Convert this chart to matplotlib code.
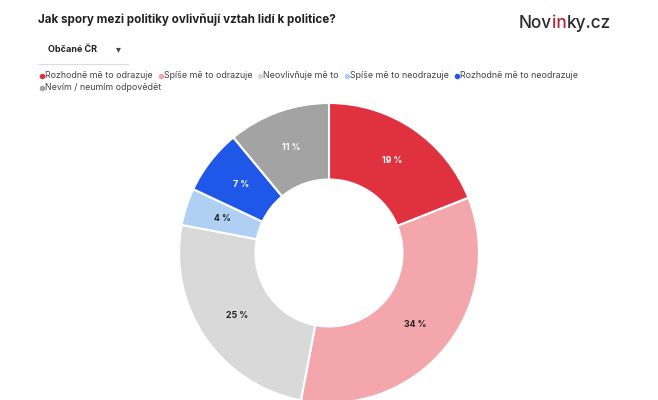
import matplotlib.pyplot as plt
import numpy as np

plt.rcParams['font.family'] = ['Inter', 'DejaVu Sans']

labels = ["Rozhodně mě to odrazuje", "Spíše mě to odrazuje", "Neovlivňuje mě to",
          "Spíše mě to neodrazuje", "Rozhodně mě to neodrazuje", "Nevím / neumím odpovědět"]
values = [19, 34, 25, 4, 7, 11]
colors = ["#E0313F", "#F4A6AD", "#D9D9D9", "#AFCFF3", "#1F57E8", "#A3A3A3"]
text_colors = ["white", "#222222", "#222222", "#222222", "white", "white"]

W, H = 658, 400
fig = plt.figure(figsize=(W / 100, H / 100), dpi=100)

# title + logo
fig.text(38 / W, 1 - 20 / H, "Jak spory mezi politiky ovlivňují vztah lidí k politice?",
         fontsize=8.4, fontweight='bold', color="#222222", va='center')
x = 519 / W
for part, col in [("Nov", "#2b2b2b"), ("in", "#B0263A"), ("ky.cz", "#2b2b2b")]:
    t = fig.text(x, 1 - 23 / H, part, fontsize=12.4, fontweight='medium', color=col, va='center')
    fig.canvas.draw()
    x = t.get_window_extent().x1 / W

# dropdown
fig.text(48 / W, 1 - 49 / H, "Občané ČR", fontsize=6.5, fontweight='bold', color="#222222", va='center')
fig.text(116 / W, 1 - 49 / H, "▾", fontsize=7, color="#444444", va='center', family='DejaVu Sans')
fig.add_artist(plt.Line2D([38 / W, 128 / W], [1 - 64 / H, 1 - 64 / H], color="#dddddd", lw=0.8))

# legend
rows = [(0, 5, 76), (5, 6, 88)]
for start, end, y in rows:
    x = 40 / W
    for i in range(start, end):
        fig.add_artist(plt.Line2D([x + 2 / W], [1 - y / H], marker='o', markersize=3,
                                  color=colors[i], lw=0))
        t = fig.text(x + 5 / W, 1 - y / H, labels[i], fontsize=6.4, color="#444444", va='center')
        fig.canvas.draw()
        x = t.get_window_extent().x1 / W + 6 / W

# donut
ax = fig.add_axes([179 / W, -3 / H, 300 / W, 300 / H])
ax.pie(values, colors=colors, startangle=90, counterclock=False, radius=1,
       wedgeprops=dict(width=0.51, edgecolor='white', linewidth=1.5))
ang = 90.0
for v, tc in zip(values, text_colors):
    mid = np.deg2rad(ang - v * 3.6 / 2)
    ax.text(0.745 * np.cos(mid), 0.745 * np.sin(mid), f"{v} %", ha='center', va='center',
            fontsize=6.3, fontweight='bold', color=tc)
    ang -= v * 3.6
ax.set_xlim(-1, 1)
ax.set_ylim(-1, 1)
ax.set_aspect('equal')
ax.axis('off')

fig.savefig("out.png", dpi=100)
